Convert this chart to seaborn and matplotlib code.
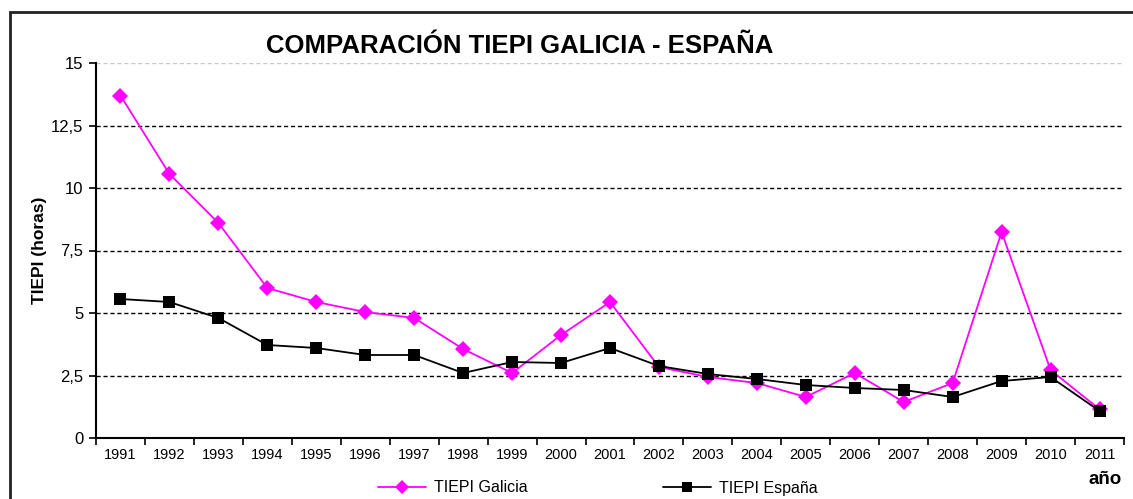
import pandas as pd
import numpy as np
import matplotlib.pyplot as plt
import seaborn as sns
from matplotlib.patches import Rectangle
from matplotlib.lines import Line2D

# data
years = list(range(1991, 2012))
galicia = [13.7, 10.56, 8.6, 6.0, 5.44, 5.04, 4.8, 3.56, 2.6, 4.12, 5.44,
           2.84, 2.44, 2.2, 1.64, 2.6, 1.44, 2.2, 8.24, 2.72, 1.15]
espana = [5.56, 5.44, 4.8, 3.72, 3.6, 3.32, 3.32, 2.6, 3.04, 3.0, 3.6,
          2.88, 2.56, 2.36, 2.12, 2.0, 1.92, 1.64, 2.28, 2.44, 1.08]
series_names = ['TIEPI Galicia', 'TIEPI España']

df = pd.DataFrame({
    'year': years * 2,
    'value': galicia + espana,
    'serie': [series_names[0]] * len(years) + [series_names[1]] * len(years),
})

sns.set_theme(style="white")
plt.rcParams['font.family'] = ['Liberation Sans', 'DejaVu Sans']
plt.rcParams['text.color'] = 'black'
plt.rcParams['xtick.color'] = 'black'
plt.rcParams['ytick.color'] = 'black'
plt.rcParams['axes.labelcolor'] = 'black'

fig = plt.figure(figsize=(11.33, 4.99), dpi=100)
ax = fig.add_axes([96 / 1133, 1 - 438 / 499, (1124 - 96) / 1133, (438 - 63) / 499])

sns.lineplot(data=df, x='year', y='value', hue='serie', style='serie',
             palette={series_names[0]: '#FF00FF', series_names[1]: 'black'},
             markers={series_names[0]: 'D', series_names[1]: 's'},
             dashes=False, linewidth=1.3, markersize=8.5,
             markeredgewidth=0, ax=ax, legend=False)

ax.set_xlim(1990.5, 2011.5)
ax.set_ylim(0, 15)

# gridlines
for v in [2.5, 5, 7.5, 10, 12.5]:
    ax.axhline(v, color='black', linestyle=(0, (3, 2)), linewidth=1.0, zorder=0)
ax.axhline(15, color='#c8c8c8', linestyle=(0, (3, 2)), linewidth=1.0, zorder=0)

ax.set_yticks([0, 2.5, 5, 7.5, 10, 12.5, 15])
ax.set_yticklabels(['0', '2,5', '5', '7,5', '10', '12,5', '15'], fontsize=12)
ax.set_xticks(years)
ax.set_xticklabels([str(y) for y in years], fontsize=10.5)
ax.set_xticks(np.arange(1990.5, 2012, 1), minor=True)
ax.tick_params(axis='x', which='major', length=0, pad=7)
ax.tick_params(axis='x', which='minor', length=5, width=1.2, color='black', direction='out', bottom=True)
ax.tick_params(axis='y', which='major', length=5, width=1.2, color='black', direction='out', left=True, pad=4)

for side in ['top', 'right']:
    ax.spines[side].set_visible(False)
for side in ['left', 'bottom']:
    ax.spines[side].set_color('black')
    ax.spines[side].set_linewidth(1.5)

ax.set_xlabel('')
ax.set_ylabel('TIEPI (horas)', fontsize=12.5, fontweight='bold', labelpad=3)
fig.text(1105 / 1133, 1 - 479 / 499, 'año', fontsize=13.5, fontweight='bold',
         ha='center', va='center')
fig.text(520 / 1133, 1 - 46 / 499, 'COMPARACIÓN TIEPI GALICIA - ESPAÑA',
         fontsize=18.5, fontweight='bold', ha='center', va='center')

# legend
handles = [Line2D([], [], color='#FF00FF', marker='D', markersize=7, markeredgewidth=0, linewidth=1.3),
           Line2D([], [], color='black', marker='s', markersize=7.5, markeredgewidth=0, linewidth=1.3)]
fig.legend(handles, series_names, loc='center', bbox_to_anchor=(598 / 1133, 1 - 488 / 499),
           ncol=2, frameon=False, fontsize=11.5, columnspacing=8.5, handlelength=3,
           handletextpad=0.5)

# outer chart frame
fig.patches.append(Rectangle((10 / 1133, -0.1), 1.2, 1 - 12 / 499 + 0.1,
                             transform=fig.transFigure, fill=False,
                             edgecolor='#222222', linewidth=2))

fig.savefig('out.png', dpi=100)
